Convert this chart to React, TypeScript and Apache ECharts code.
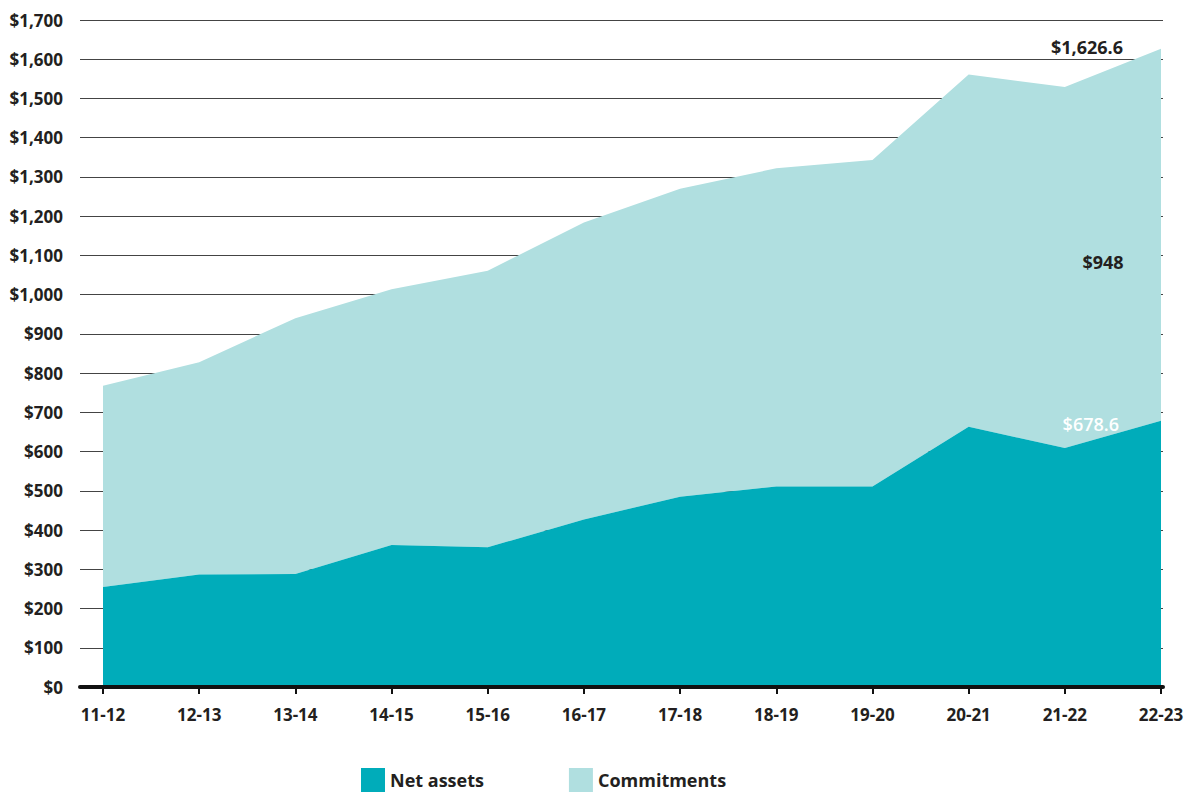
import React, { useEffect, useRef } from "react";
import * as echarts from "echarts";

const categories = ["11-12", "12-13", "13-14", "14-15", "15-16", "16-17", "17-18", "18-19", "19-20", "20-21", "21-22", "22-23"];
const netAssets = [255, 287, 288, 362, 356, 427, 485, 511, 511, 663, 609, 678.6];
const commitments = [513, 541, 652, 652, 705, 757, 785, 811, 832, 898, 920, 948];
const yTicks = { min: 0, max: 1700, interval: 100 };
const seriesNames = ["Net assets", "Commitments"];

const TEAL = "#00acba";
const LIGHT = "#b0dfe0";
const DARK = "#231f20";
const FONT = "'Open Sans', 'Noto Sans', sans-serif";

const fmtMoney = (v: number) => "$" + v.toLocaleString("en-US", { maximumFractionDigits: 1 });

export default function App() {
  const ref = useRef<HTMLDivElement>(null);
  useEffect(() => {
    if (!ref.current) return;
    const chart = echarts.init(ref.current, undefined, { renderer: "svg" });
    const last = categories.length - 1;
    const total = netAssets[last] + commitments[last];

    const netData = netAssets.map((v, i) =>
      i === last
        ? {
            value: v,
            label: {
              show: true,
              position: "left",
              distance: 42,
              offset: [0, 3],
              color: "#ffffff",
              fontSize: 18,
              fontWeight: 600,
              fontFamily: FONT,
              formatter: () => fmtMoney(v),
            },
          }
        : v
    );
    const comData = commitments.map((v, i) =>
      i === last
        ? {
            value: v,
            label: {
              show: true,
              position: "left",
              distance: 38,
              offset: [0, -2],
              color: DARK,
              fontSize: 18,
              fontWeight: "bold",
              fontFamily: FONT,
              formatter: () => fmtMoney(total),
            },
          }
        : v
    );

    chart.setOption({
      animation: false,
      textStyle: { fontFamily: FONT },
      grid: [
        { left: 80, right: 29, top: 20, bottom: 110 },
        { left: 103, right: 31, top: 20, bottom: 110 },
      ],
      xAxis: [
        {
          gridIndex: 0,
          type: "value",
          min: 0,
          max: 1,
          z: 10,
          axisLine: { show: true, lineStyle: { color: "#111", width: 4 } },
          axisTick: { show: false },
          axisLabel: { show: false },
          splitLine: { show: false },
        },
        {
          gridIndex: 1,
          type: "category",
          data: categories,
          boundaryGap: false,
          z: 11,
          axisLine: { show: false },
          axisTick: { show: true, length: 7, lineStyle: { color: "#111", width: 2 } },
          axisLabel: {
            margin: 19,
            color: DARK,
            fontSize: 17,
            fontWeight: "bold",
            fontFamily: FONT,
          },
        },
      ],
      yAxis: [
        {
          gridIndex: 0,
          type: "value",
          min: yTicks.min,
          max: yTicks.max,
          interval: yTicks.interval,
          axisLine: { show: false },
          axisTick: { show: false },
          axisLabel: {
            margin: 17,
            color: DARK,
            fontSize: 17,
            fontWeight: "bold",
            fontFamily: FONT,
            formatter: (v: number) => fmtMoney(v),
          },
          splitLine: { show: true, lineStyle: { color: "#444", width: 1 } },
        },
        {
          gridIndex: 1,
          type: "value",
          min: yTicks.min,
          max: yTicks.max,
          interval: yTicks.interval,
          show: false,
          splitLine: { show: false },
        },
      ],
      legend: {
        data: seriesNames,
        left: 361,
        top: 768,
        padding: 0,
        icon: "rect",
        itemWidth: 24,
        itemHeight: 24,
        itemGap: 85,
        textStyle: { color: DARK, fontSize: 18, fontWeight: "bold", fontFamily: FONT },
      },
      series: [
        {
          name: seriesNames[0],
          type: "line",
          xAxisIndex: 1,
          yAxisIndex: 1,
          stack: "total",
          data: netData,
          symbol: "circle",
          symbolSize: 0,
          showSymbol: true,
          lineStyle: { width: 0, color: TEAL },
          itemStyle: { color: TEAL },
          areaStyle: { color: TEAL, opacity: 1 },
          z: 3,
        },
        {
          name: seriesNames[1],
          type: "line",
          xAxisIndex: 1,
          yAxisIndex: 1,
          stack: "total",
          data: comData,
          symbol: "circle",
          symbolSize: 0,
          showSymbol: true,
          lineStyle: { width: 0, color: LIGHT },
          itemStyle: { color: LIGHT },
          areaStyle: { color: LIGHT, opacity: 1 },
          z: 2,
          markPoint: {
            symbol: "circle",
            symbolSize: 0,
            data: [
              {
                coord: [categories[last], netAssets[last] + commitments[last] / 2],
                label: {
                  show: true,
                  position: "inside",
                  offset: [-58, 27],
                  color: DARK,
                  fontSize: 18,
                  fontWeight: "bold",
                  fontFamily: FONT,
                  formatter: () => fmtMoney(commitments[last]),
                },
              },
            ],
          },
        },
      ],
    });
    return () => chart.dispose();
  }, []);
  return (
    <div
      ref={ref}
      style={{ position: "fixed", left: 0, top: 0, width: 1192, height: 797, background: "#fff" }}
    />
  );
}
